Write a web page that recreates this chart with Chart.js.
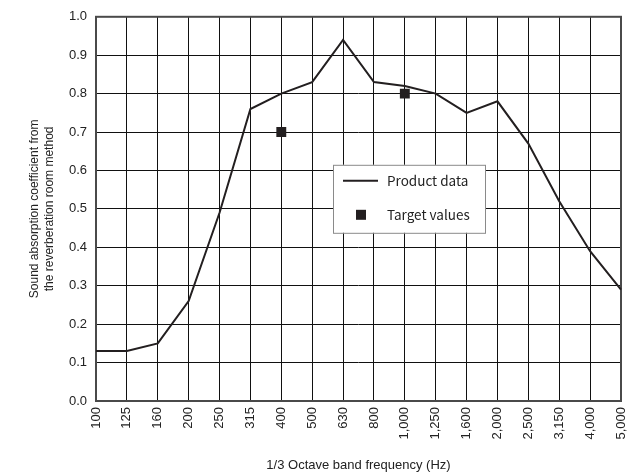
<!DOCTYPE html>
<html>
<head>
<meta charset="utf-8">
<script src="https://cdn.jsdelivr.net/npm/chart.js@4.4.1/dist/chart.umd.min.js"></script>
<style>
  html, body { margin: 0; padding: 0; background: #fff; }
  #wrap { width: 635px; height: 473px; position: relative; }
</style>
</head>
<body>
<div id="wrap"><canvas id="c"></canvas></div>
<script>
// 1/3 octave band centre frequencies (Hz)
const bands = ['100','125','160','200','250','315','400','500','630','800',
               '1,000','1,250','1,600','2,000','2,500','3,150','4,000','5,000'];

// Measured absorption coefficient of the product
const productData = [0.13, 0.13, 0.15, 0.26, 0.49, 0.76, 0.80, 0.83, 0.94, 0.83,
                     0.82, 0.80, 0.75, 0.78, 0.67, 0.52, 0.39, 0.29];

// Target values (only at 400 Hz and 1,000 Hz)
const targetValues = [null, null, null, null, null, null, 0.70, null, null, null,
                      0.80, null, null, null, null, null, null, null];

const yTicks = [0.0, 0.1, 0.2, 0.3, 0.4, 0.5, 0.6, 0.7, 0.8, 0.9, 1.0];

const legendItems = ['Product data', 'Target values'];

const ink = '#231f20';
const sans = '"Liberation Sans", Arial, sans-serif';

// Frame around the plotting area
const framePlugin = {
  id: 'frame',
  beforeDatasetsDraw(chart) {
    const { ctx, chartArea: a } = chart;
    ctx.save();
    ctx.strokeStyle = '#4a4a4a';
    ctx.lineWidth = 2;
    ctx.strokeRect(a.left, a.top, a.right - a.left, a.bottom - a.top);
    ctx.restore();
  }
};

// Boxed legend placed inside the plot
const boxLegend = {
  id: 'boxLegend',
  afterDatasetsDraw(chart) {
    const { ctx, chartArea: a } = chart;
    const x = a.left + 237, y = a.top + 148, w = 152, h = 68;
    ctx.save();
    ctx.fillStyle = '#fff';
    ctx.fillRect(x, y, w, h);
    ctx.strokeStyle = '#8a8a8a';
    ctx.lineWidth = 1;
    ctx.strokeRect(x + 0.5, y + 0.5, w, h);

    // line sample
    ctx.strokeStyle = ink;
    ctx.lineWidth = 2;
    ctx.beginPath();
    ctx.moveTo(x + 10, y + 16);
    ctx.lineTo(x + 45, y + 16);
    ctx.stroke();

    // square sample
    ctx.fillStyle = ink;
    ctx.fillRect(x + 23, y + 45, 10, 10);

    ctx.fillStyle = '#222';
    ctx.font = '13.5px "Noto Sans CJK JP", "Liberation Sans", sans-serif';
    ctx.textBaseline = 'middle';
    ctx.textAlign = 'left';
    ctx.fillText(legendItems[0], x + 54, y + 16);
    ctx.fillText(legendItems[1], x + 54, y + 50);
    ctx.restore();
  }
};

new Chart(document.getElementById('c'), {
  type: 'line',
  data: {
    labels: bands,
    datasets: [
      {
        label: legendItems[0],
        data: productData,
        borderColor: ink,
        borderWidth: 2,
        pointRadius: 0,
        tension: 0,
        fill: false
      },
      {
        label: legendItems[1],
        data: targetValues,
        showLine: false,
        pointStyle: 'rect',
        pointRadius: 7,
        pointBorderWidth: 0,
        pointBackgroundColor: ink,
        pointBorderColor: ink
      }
    ]
  },
  options: {
    responsive: true,
    maintainAspectRatio: false,
    animation: false,
    layout: { padding: { left: 0, top: 16, right: 14, bottom: 0 } },
    plugins: {
      legend: { display: false },
      tooltip: { enabled: false }
    },
    scales: {
      x: {
        type: 'category',
        offset: false,
        grid: { color: '#111', lineWidth: 1, drawTicks: false, offset: false },
        border: { display: false },
        ticks: {
          color: '#222',
          font: { family: sans, size: 13 },
          maxRotation: 90, minRotation: 90,
          padding: 6,
          autoSkip: false
        },
        title: {
          display: true,
          text: '1/3 Octave band frequency (Hz)',
          color: '#222',
          font: { family: sans, size: 13 },
          padding: { top: 0, bottom: 0 }
        },
        afterFit(s) {
          s.height = 72;
          s.paddingLeft = 0;
          s.paddingRight = 0;
        }
      },
      y: {
        min: 0, max: 1,
        afterBuildTicks(s) { s.ticks = yTicks.map(v => ({ value: v })); },
        grid: { color: '#111', lineWidth: 1, drawTicks: false },
        border: { display: false },
        ticks: {
          color: '#222',
          font: { family: sans, size: 13 },
          padding: 9,
          callback: v => Number(v).toFixed(1)
        },
        title: {
          display: true,
          text: ['Sound absorption coefficient from', 'the reverberation room method'],
          color: '#222',
          font: { family: sans, size: 12, lineHeight: 1.25 },
          padding: { top: 27, bottom: 0 }
        },
        afterFit(s) { s.width = 96; }
      }
    }
  },
  plugins: [framePlugin, boxLegend]
});
</script>
</body>
</html>
